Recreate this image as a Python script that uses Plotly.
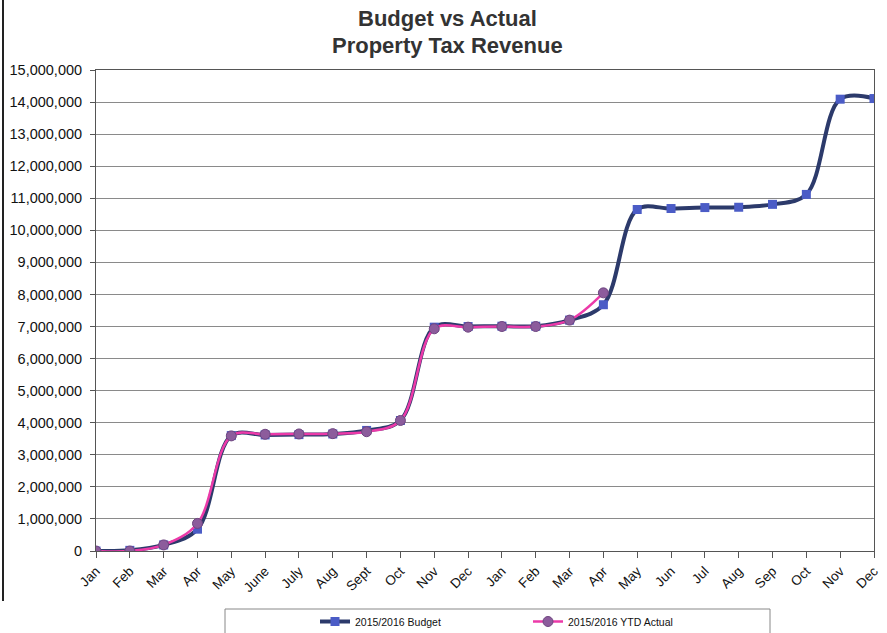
import plotly.graph_objects as go

months = ["Jan", "Feb", "Mar", "Apr", "May", "June", "July", "Aug", "Sept", "Oct", "Nov", "Dec",
          "Jan", "Feb", "Mar", "Apr", "May", "Jun", "Jul", "Aug", "Sep", "Oct", "Nov", "Dec"]

budget = [0, 20000, 190000, 680000, 3600000, 3620000, 3630000, 3650000, 3760000, 4070000,
          6980000, 7000000, 7010000, 7010000, 7200000, 7680000, 10650000, 10680000, 10710000,
          10720000, 10810000, 11120000, 14090000, 14110000]

actual = [0, 0, 190000, 860000, 3590000, 3640000, 3650000, 3660000, 3720000, 4070000,
          6930000, 6980000, 7000000, 7000000, 7200000, 8050000]

y_ticks = list(range(0, 15000001, 1000000))

xpos = list(range(len(months)))

fig = go.Figure()
fig.add_trace(go.Scatter(
    x=xpos, y=budget, name="2015/2016 Budget", mode="lines+markers",
    line=dict(color="#2C3A6B", width=4, shape="spline", smoothing=1.0),
    marker=dict(symbol="square", size=9, color="#4B5CC6", line=dict(width=0)),
))
fig.add_trace(go.Scatter(
    x=xpos[:len(actual)], y=actual, name="2015/2016 YTD Actual", mode="lines+markers",
    line=dict(color="#EC3AA9", width=2.5, shape="spline", smoothing=1.0),
    marker=dict(symbol="circle", size=10, color="#8C5C9C", line=dict(width=1, color="#6E4680")),
))

font_family = "Arial, 'Liberation Sans', sans-serif"
L, R, T, B = 96, 13, 70, 82
PH = 633.0 - T - B
PW = 887.0 - L - R

fig.update_layout(
    width=887, height=633,
    paper_bgcolor="white", plot_bgcolor="white",
    margin=dict(l=L, r=R, t=T, b=B, autoexpand=False),
    font=dict(family=font_family, color="#111"),
    showlegend=True,
    legend=dict(orientation="h", x=(315 - L) / PW, xanchor="left", y=-(607 - 551) / PH, yanchor="top",
                font=dict(size=10.5, color="#111"), bgcolor="rgba(0,0,0,0)",
                entrywidth=168, entrywidthmode="pixels", itemwidth=30),
    xaxis=dict(range=[0, 23], tickmode="array", tickvals=xpos, ticktext=months,
               tickangle=-45, tickfont=dict(size=13.5, color="#111"),
               showgrid=False, showline=True, linecolor="#555", linewidth=1, mirror=True,
               ticks="outside", ticklen=6, tickcolor="#555", zeroline=False, automargin=False),
    yaxis=dict(range=[0, 15000000], tickmode="array", tickvals=y_ticks,
               ticktext=[f"{v:,}" for v in y_ticks],
               tickfont=dict(size=14.5, color="#111"), ticklabelstandoff=5,
               showgrid=True, gridcolor="#8A8A8A", gridwidth=1,
               showline=True, linecolor="#555", linewidth=1, mirror=True,
               ticks="outside", ticklen=5, tickcolor="#555", zeroline=False, automargin=False),
    annotations=[
        dict(text="<b>Budget vs Actual</b>", xref="paper", yref="paper",
             x=(447 - L) / PW, y=1 + (T - 19) / PH, xanchor="center", yanchor="middle",
             showarrow=False, font=dict(size=22, color="#333", family=font_family)),
        dict(text="<b>Property Tax Revenue</b>", xref="paper", yref="paper",
             x=(447 - L) / PW, y=1 + (T - 45) / PH, xanchor="center", yanchor="middle",
             showarrow=False, font=dict(size=22, color="#333", family=font_family)),
    ],
    shapes=[
        dict(type="rect", xref="paper", yref="paper", x0=(225 - L) / PW, x1=(770 - L) / PW,
             y0=-(609 - 551) / PH, y1=-0.25, line=dict(color="#888", width=1),
             fillcolor="rgba(0,0,0,0)"),
        dict(type="line", xref="paper", yref="paper", x0=(3 - L) / PW, x1=(3 - L) / PW,
             y0=-50 / PH, y1=1 + T / PH, line=dict(color="#222", width=2)),
    ],
)

fig.write_html("out.html", config={"displayModeBar": False},
               post_script="document.body.style.margin='0';document.body.style.overflow='hidden';")
